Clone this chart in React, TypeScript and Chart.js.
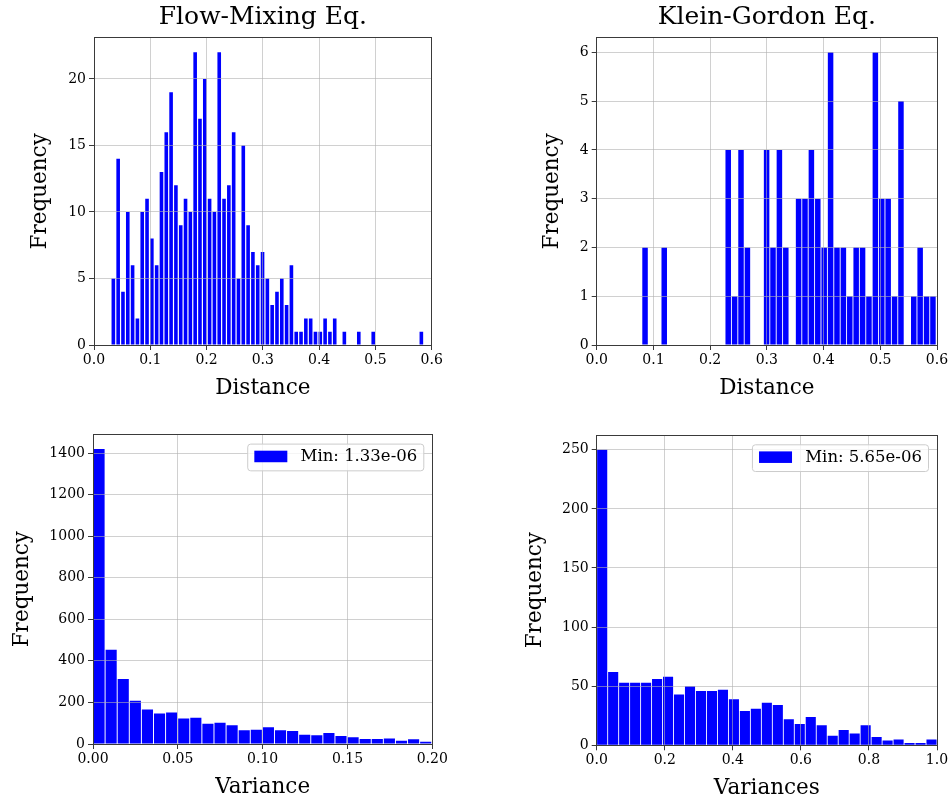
import React, { useEffect, useRef } from "react";
import { Chart, registerables } from "chart.js";

Chart.register(...registerables);

const FONT = "'DejaVu Serif', 'Liberation Serif', serif";
const BAR_BLUE = "#0000ff";
const GRID = "rgba(176,176,176,0.6)";
const SPINE = "#3a3a3a";
const TEXT = "#000000";

// ---------------- data ----------------
// Flow-Mixing Eq. : distances histogram (65 bins)
const FM_DIST_RANGE = [0.0301, 0.5859];
const FM_DIST_COUNTS = [
  5, 14, 4, 10, 6, 2, 10, 11, 8, 6,
  13, 16, 19, 12, 9, 11, 10, 22, 17, 20,
  11, 10, 22, 11, 12, 16, 5, 15, 9, 7,
  6, 7, 5, 3, 4, 5, 3, 6, 1, 1,
  2, 2, 1, 1, 2, 1, 2, 0, 1, 0,
  0, 1, 0, 0, 1, 0, 0, 0, 0, 0,
  0, 0, 0, 0, 1,
];

// Klein-Gordon Eq. : distances histogram (46 bins)
const KG_DIST_RANGE = [0.0796, 0.5985];
const KG_DIST_COUNTS = [
  2, 0, 0, 2, 0, 0, 0, 0, 0, 0,
  0, 0, 0, 4, 1, 4, 2, 0, 0, 4,
  2, 4, 2, 0, 3, 3, 4, 3, 2, 6,
  2, 2, 1, 2, 2, 1, 6, 3, 3, 1,
  5, 0, 1, 2, 1, 1,
];

// Flow-Mixing variances histogram (bins of width ~0.00713, view clipped at 0.2)
const FM_VAR_RANGE = [0.0, 0.2068];
const FM_VAR_COUNTS = [
  1419, 453, 313, 208, 166, 147, 152, 123, 126, 98,
  102, 90, 66, 69, 81, 66, 63, 45, 42, 53,
  39, 32, 24, 24, 27, 16, 23, 11, 10,
];
const FM_VAR_LABEL = "Min: 1.33e-06";

// Klein-Gordon variances histogram (31 bins)
const KG_VAR_RANGE = [0.0, 1.0];
const KG_VAR_COUNTS = [
  250, 62, 53, 53, 53, 56, 58, 43, 50, 46,
  46, 47, 39, 29, 31, 36, 34, 22, 18, 24,
  17, 8, 13, 10, 17, 7, 4, 5, 2, 2,
  5,
];
const KG_VAR_LABEL = "Min: 5.65e-06";

const TITLES = ["Flow-Mixing Eq.", "Klein-Gordon Eq."];
const X_LABELS = ["Distance", "Distance", "Variance", "Variances"];
const Y_LABEL = "Frequency";

// axis limits / tick steps
const X_MAX = [0.6, 0.6, 0.2, 1.0];
const X_STEP = [0.1, 0.1, 0.05, 0.2];
const X_DIGITS = [1, 1, 2, 1];
const Y_MAX = [23.1, 6.3, 1490, 262.5];
const Y_STEP = [5, 1, 200, 50];

// ---------------- layout (pixels) ----------------
type Panel = {
  left: number; top: number; width: number; height: number;
  area: { l: number; t: number; r: number; b: number };
  yTitleC: number; xTitleMid: number; barPct: number;
};

const PANELS: Panel[] = [
  { left: 0, top: 0, width: 476, height: 401, area: { l: 94, t: 37.7, r: 431.7, b: 345 }, yTitleC: 40.6, xTitleMid: 388.6, barPct: 0.75 },
  { left: 476, top: 0, width: 476, height: 401, area: { l: 120.7, t: 37.7, r: 461, b: 345 }, yTitleC: 76.5, xTitleMid: 388.6, barPct: 0.86 },
  { left: 0, top: 401, width: 476, height: 402, area: { l: 93, t: 33.3, r: 432.3, b: 343 }, yTitleC: 22.5, xTitleMid: 386.6, barPct: 0.92 },
  { left: 476, top: 401, width: 476, height: 402, area: { l: 120.7, t: 34, r: 461, b: 344.3 }, yTitleC: 59, xTitleMid: 387.9, barPct: 0.92 },
];

const TITLE_SIZE = 25;
const LABEL_SIZE = 21.5;
const TICK_SIZE = 14;
const LEGEND_SIZE = 16.5;

function binCenters(range: number[], n: number): number[] {
  const w = (range[1] - range[0]) / n;
  const out: number[] = [];
  for (let i = 0; i < n; i++) out.push(range[0] + (i + 0.5) * w);
  return out;
}

const framePlugin = {
  id: "frameBox",
  afterDraw(chart: any) {
    const { ctx, chartArea: a } = chart;
    ctx.save();
    ctx.strokeStyle = SPINE;
    ctx.lineWidth = 1;
    const l = Math.floor(a.left) + 0.5;
    const t = Math.floor(a.top) + 0.5;
    const r = Math.floor(a.right) + 0.5;
    const b = Math.floor(a.bottom) + 0.5;
    ctx.strokeRect(l, t, r - l, b - t);
    ctx.restore();
  },
};

const legendBoxPlugin = {
  id: "legendBox",
  afterDraw(chart: any, _args: any, opts: any) {
    if (!opts || !opts.show) return;
    const ds = chart.data.datasets[0];
    const text: string = ds.label;
    const { ctx, chartArea: a } = chart;
    const fs = LEGEND_SIZE;
    ctx.save();
    ctx.font = `${fs}px ${FONT}`;
    const tw = ctx.measureText(text).width;
    const w = 0.4 * fs + 2 * fs + 0.8 * fs + tw + 0.4 * fs;
    const h = 1.62 * fs;
    const right = a.right - 8.5;
    const top = a.top + 9.8;
    const left = right - w;
    ctx.beginPath();
    if ((ctx as any).roundRect) (ctx as any).roundRect(left, top, w, h, 3);
    else ctx.rect(left, top, w, h);
    ctx.fillStyle = "rgba(255,255,255,0.8)";
    ctx.fill();
    ctx.strokeStyle = "#cccccc";
    ctx.lineWidth = 1;
    ctx.stroke();
    const sx = left + 0.4 * fs;
    const sh = 0.7 * fs;
    const cy = top + h / 2 - 1;
    ctx.fillStyle = ds.backgroundColor;
    ctx.fillRect(sx, cy - sh / 2, 2 * fs, sh);
    ctx.fillStyle = TEXT;
    ctx.textBaseline = "middle";
    ctx.textAlign = "left";
    ctx.fillText(text, sx + 2 * fs + 0.8 * fs, cy + 0.5);
    ctx.restore();
  },
};

type Spec = {
  counts: number[];
  range: number[];
  title?: string;
  legend?: string;
};

const SPECS: Spec[] = [
  { counts: FM_DIST_COUNTS, range: FM_DIST_RANGE, title: TITLES[0] },
  { counts: KG_DIST_COUNTS, range: KG_DIST_RANGE, title: TITLES[1] },
  { counts: FM_VAR_COUNTS, range: FM_VAR_RANGE, legend: FM_VAR_LABEL },
  { counts: KG_VAR_COUNTS, range: KG_VAR_RANGE, legend: KG_VAR_LABEL },
];

function keepStepTicks(step: number) {
  return (scale: any) => {
    scale.ticks = scale.ticks.filter((t: any) => {
      const k = t.value / step;
      return Math.abs(k - Math.round(k)) < 1e-6;
    });
  };
}

function buildConfig(idx: number): any {
  const spec = SPECS[idx];
  const p = PANELS[idx];
  const centers = binCenters(spec.range, spec.counts.length);
  const labelHalf = (LABEL_SIZE * 1.2) / 2;
  const padL = p.yTitleC - labelHalf;
  const yW = p.area.l - padL;
  const padR = p.width - p.area.r;
  const padB = Math.max(0, p.height - labelHalf - p.xTitleMid);
  const xH = p.height - padB - p.area.b;
  let padT = 0;
  let titleOpts: any = { display: false };
  if (spec.title) {
    const tl = TITLE_SIZE * 1.2;
    const titleMid = 17.6;
    const ptop = titleMid - tl / 2;
    const pbot = p.area.t - tl - ptop;
    titleOpts = {
      display: true,
      text: spec.title,
      color: TEXT,
      font: { family: FONT, size: TITLE_SIZE, weight: "normal" },
      padding: { top: ptop, bottom: pbot },
      fullSize: false,
    };
  } else {
    padT = p.area.t;
  }

  return {
    type: "bar",
    data: {
      datasets: [
        {
          label: spec.legend || Y_LABEL,
          data: centers.map((x, i) => ({ x, y: spec.counts[i] })),
          backgroundColor: BAR_BLUE,
          borderWidth: 0,
          barPercentage: p.barPct,
          categoryPercentage: 1,
        },
      ],
    },
    options: {
      animation: false,
      responsive: false,
      maintainAspectRatio: false,
      devicePixelRatio: 1,
      layout: { padding: { left: padL, right: padR, top: padT, bottom: padB } },
      plugins: {
        legend: { display: false },
        tooltip: { enabled: false },
        title: titleOpts,
        legendBox: { show: !!spec.legend },
      },
      scales: {
        x: {
          type: "linear",
          min: 0,
          max: X_MAX[idx],
          offset: false,
          bounds: "data",
          grid: { offset: false, color: GRID, lineWidth: 1, z: 1, drawTicks: true, tickLength: 5, tickColor: SPINE },
          border: { display: false },
          ticks: {
            stepSize: X_STEP[idx],
            includeBounds: false,
            autoSkip: false,
            maxRotation: 0,
            padding: 2,
            color: TEXT,
            font: { family: FONT, size: TICK_SIZE },
            callback: (v: any) => Number(v).toFixed(X_DIGITS[idx]),
          },
          title: {
            display: true,
            text: X_LABELS[idx],
            color: TEXT,
            font: { family: FONT, size: LABEL_SIZE },
            padding: { top: 0, bottom: 0 },
          },
          afterBuildTicks: keepStepTicks(X_STEP[idx]),
          afterFit: (s: any) => { s.height = xH; },
        },
        y: {
          type: "linear",
          min: 0,
          max: Y_MAX[idx],
          bounds: "data",
          grid: { color: GRID, lineWidth: 1, z: 1, drawTicks: true, tickLength: 5, tickColor: SPINE },
          border: { display: false },
          ticks: {
            stepSize: Y_STEP[idx],
            includeBounds: false,
            autoSkip: false,
            padding: 3,
            color: TEXT,
            font: { family: FONT, size: TICK_SIZE },
            callback: (v: any) => String(Math.round(Number(v))),
          },
          title: {
            display: true,
            text: Y_LABEL,
            color: TEXT,
            font: { family: FONT, size: LABEL_SIZE },
            padding: { top: 0, bottom: 0 },
          },
          afterBuildTicks: keepStepTicks(Y_STEP[idx]),
          afterFit: (s: any) => { s.width = yW; },
        },
      },
    },
    plugins: [framePlugin, legendBoxPlugin],
  };
}

export default function App() {
  const refs = [
    useRef<HTMLCanvasElement>(null),
    useRef<HTMLCanvasElement>(null),
    useRef<HTMLCanvasElement>(null),
    useRef<HTMLCanvasElement>(null),
  ];

  useEffect(() => {
    const charts: Chart[] = [];
    refs.forEach((r, i) => {
      if (r.current) charts.push(new Chart(r.current, buildConfig(i)));
    });
    return () => charts.forEach((c) => c.destroy());
  }, []);

  return (
    <div
      style={{
        position: "fixed",
        left: 0,
        top: 0,
        width: 952,
        height: 803,
        background: "#ffffff",
        overflow: "hidden",
      }}
    >
      {PANELS.map((p, i) => (
        <canvas
          key={i}
          ref={refs[i]}
          width={p.width}
          height={p.height}
          style={{ position: "absolute", left: p.left, top: p.top, width: p.width, height: p.height }}
        />
      ))}
    </div>
  );
}
